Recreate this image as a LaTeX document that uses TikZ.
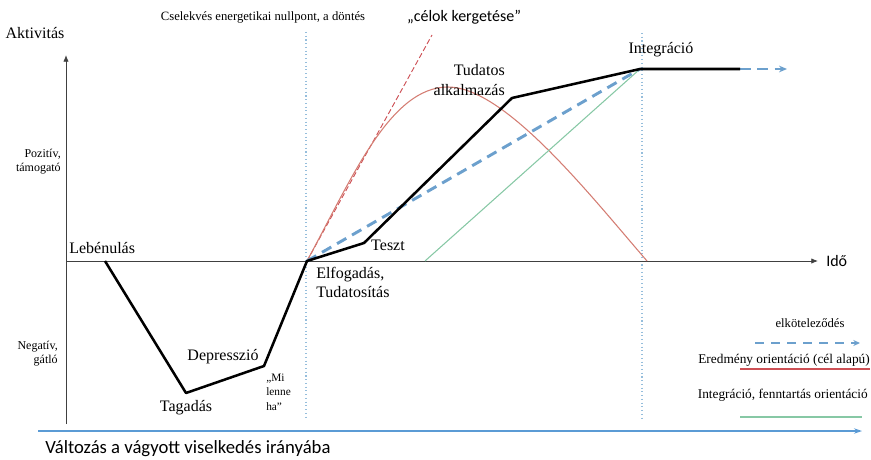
\documentclass[tikz,border=0pt]{standalone}
\usepackage{fontspec}
\setmainfont{Liberation Serif}[Ligatures=TeX]
\newfontfamily\serifT{Liberation Serif}
\newfontfamily\sansC{Carlito}
\usetikzlibrary{arrows.meta}
\definecolor{blueC}{RGB}{108,160,205}
\definecolor{blueB}{RGB}{91,155,213}
\definecolor{redC}{RGB}{212,125,115}
\definecolor{redD}{RGB}{205,80,85}
\definecolor{greenC}{RGB}{135,200,165}
\definecolor{guideC}{RGB}{150,190,220}
\begin{document}
\begin{tikzpicture}[x=0.75pt,y=-0.75pt,
  lbl/.style={font=\serifT\fontsize{12}{14.3}\selectfont, inner sep=0pt},
  small/.style={font=\serifT\fontsize{9}{10.5}\selectfont, inner sep=0pt, align=right},
  leg/.style={font=\serifT\fontsize{9.5}{11}\selectfont, inner sep=0pt},
  phase/.style={draw=black, line width=1.9pt, line join=round},
  commit/.style={draw=blueC, line width=2.2pt, dash pattern=on 8pt off 5pt},
  result/.style={draw=redC, line width=0.8pt},
  integ/.style={draw=greenC, line width=0.8pt},
  guide/.style={draw=guideC, dotted, line width=0.8pt},
  axis/.style={draw=black!75, line width=0.6pt, -{Latex[length=5pt,width=4pt]}}]
\useasboundingbox (0,0) rectangle (871,460);

% coordinates
\coordinate (ybot) at (66,424);
\coordinate (ytop) at (66,55);
\coordinate (xorg) at (66,261);
\coordinate (xend) at (818,261);
\coordinate (p0) at (105,261);
\coordinate (p1) at (186,393);
\coordinate (p2) at (264,366);
\coordinate (p3) at (307,261);
\coordinate (p4) at (364,243);
\coordinate (p5) at (512,98);
\coordinate (p6) at (640,69);
\coordinate (p7) at (740,69);
\coordinate (p8) at (787,69);
\coordinate (g0) at (425,261);
\coordinate (tg) at (432,35);
\coordinate (rpk) at (448,87);
\coordinate (rend) at (647,261);
\coordinate (v1a) at (306,32);
\coordinate (v1b) at (306,418);
\coordinate (v2a) at (642,33);
\coordinate (v2b) at (642,420);

% guides
\draw[guide] (v1a) -- (v1b);
\draw[guide] (v2a) -- (v2b);

% axes
\draw[axis] (ybot) -- (ytop);
\draw[axis] (xorg) -- (xend);

% result orientation
\draw[draw=redD, line width=0.7pt, dash pattern=on 4pt off 2pt] (p3) -- (tg);
\draw[result] (p3) .. controls (352,178) and (390,87) .. (rpk)
                   .. controls (505,87) and (590,195) .. (rend);

% integration line
\draw[integ] (g0) -- (p6);

% commitment
\draw[commit] (p3) -- (p6);
\draw[commit, -{Stealth[length=6pt,width=5pt]}] (p7) -- (p8);

% phases
\draw[phase] (p0) -- (p1) -- (p2) -- (p3) -- (p4) -- (p5) -- (p6) -- (p7);

% labels
\node[lbl] (akt) at (35,33) {Aktivitás};
\node[small, anchor=east] (poz) at (61,162) {Pozitív,\\támogató};
\node[small, anchor=east] (neg) at (58,354) {Negatív,\\gátló};
\node[lbl, anchor=west] (leb) at (69,248) {Lebénulás};
\node[lbl] (tag) at (186,408) {Tagadás};
\node[lbl] (dep) at (223,357) {Depresszió};
\node[font=\serifT\fontsize{8.5}{11}\selectfont, inner sep=0pt, align=left, anchor=west] (mi) at (266,392) {„Mi\\lenne\\ha”};
\node[lbl, align=left, anchor=west] (elf) at (316,282) {Elfogadás,\\Tudatosítás};
\node[lbl] (tesz) at (388,245) {Teszt};
\node[lbl, align=right, anchor=east, font=\serifT\fontsize{12}{15}\selectfont] (tud) at (505,80) {Tudatos\\alkalmazás};
\node[lbl] (integ) at (661,50) {Integráció};
\node[inner sep=0pt, anchor=west, font=\sansC\fontsize{12}{14}\selectfont] (ido) at (826,261) {Idő};
\node[inner sep=0pt, font=\serifT\fontsize{9.5}{11}\selectfont] (cse) at (263,17) {Cselekvés energetikai nullpont, a döntés};
\node[inner sep=0pt, font=\sansC\fontsize{12}{14}\selectfont] (cel) at (464,17) {„célok kergetése”};

% legend
\coordinate (l1a) at (755,343);
\coordinate (l1b) at (860,343);
\coordinate (l2a) at (740,369);
\coordinate (l2b) at (870,369);
\coordinate (l3a) at (740,417);
\coordinate (l3b) at (862,417);
\node[leg] (lg1) at (810,323) {elköteleződés};
\draw[commit, line width=1.8pt, dash pattern=on 7pt off 5pt, -{Stealth[length=5pt,width=4.5pt]}] (l1a) -- (l1b);
\node[leg, anchor=east, font=\serifT\fontsize{10}{12}\selectfont] (lg2) at (870,360) {Eredmény orientáció (cél alapú)};
\draw[draw=redD, line width=0.8pt] (l2a) -- (l2b);
\node[leg, anchor=east, font=\serifT\fontsize{10}{12}\selectfont] (lg3) at (868,395) {Integráció, fenntartás orientáció};
\draw[integ] (l3a) -- (l3b);

% bottom arrow
\coordinate (ba) at (38,431);
\coordinate (bb) at (862,431);
\draw[draw=blueB, line width=1.5pt, -{Stealth[length=6pt,width=4pt]}] (ba) -- (bb);
\node[inner sep=0pt, anchor=west, font=\sansC\fontsize{14}{16}\selectfont] (chg) at (45,449) {Változás a vágyott viselkedés irányába};
\end{tikzpicture}
\end{document}
